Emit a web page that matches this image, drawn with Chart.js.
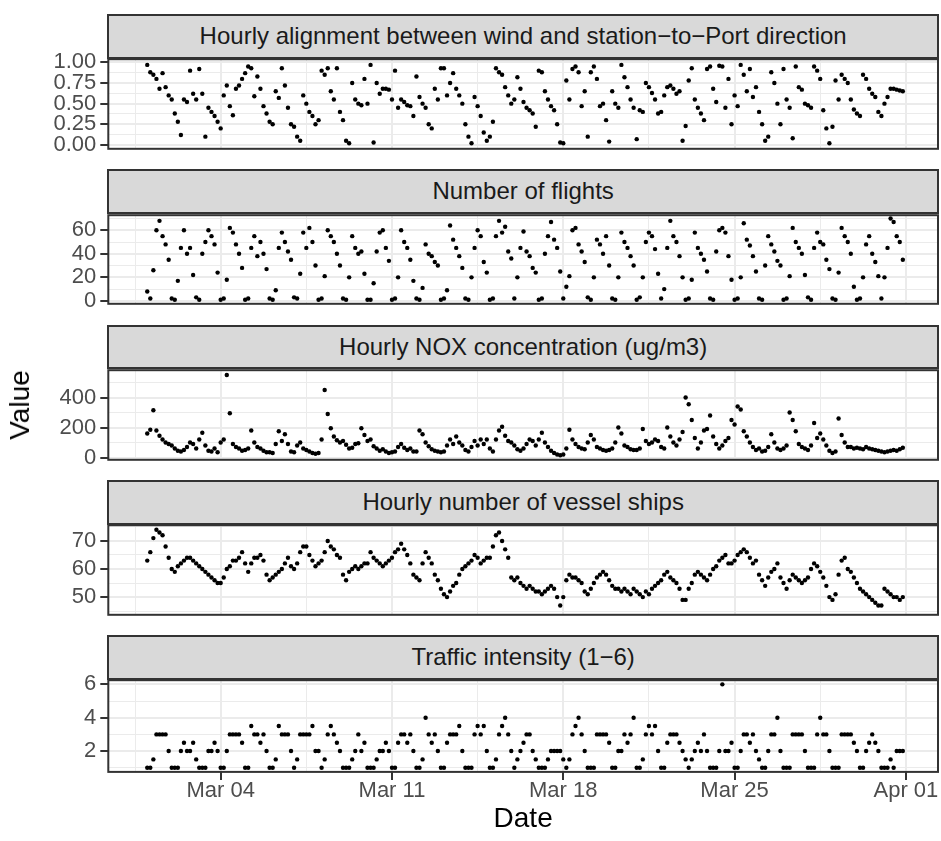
<!DOCTYPE html>
<html>
<head>
<meta charset="utf-8">
<script src="https://cdn.jsdelivr.net/npm/chart.js@4.4.0/dist/chart.umd.min.js"></script>
<style>
  body { margin: 0; background: #fff; width: 941px; height: 841px; position: relative; overflow: hidden;
         font-family: "Liberation Sans", Arial, sans-serif; }
  canvas { position: absolute; left: 0; }
  .strip { position: absolute; box-sizing: border-box; background: #d9d9d9; border: 2px solid #333;
           color: #1a1a1a; font-size: 24px; text-align: center; white-space: nowrap; }
  .title { position: absolute; color: #000; font-size: 28px; white-space: nowrap; }
</style>
</head>
<body>
<script>
// hourly samples, every 3 hours from Mar 01 00:00 (hour 0)
const stepHours = 3;

const dateTicks = [72, 240, 408, 576, 744];
const dateLabels = ['Mar 04', 'Mar 11', 'Mar 18', 'Mar 25', 'Apr 01'];
const dateMinor = [-12, 156, 324, 492, 660];

const panelTitles = [
  'Hourly alignment between wind and station\u2212to\u2212Port direction',
  'Number of flights',
  'Hourly NOX concentration (ug/m3)',
  'Hourly number of vessel ships',
  'Traffic intensity (1\u22126)'
];

// one row per day, 8 values (00,03,...,21h)
const alignment = [
  0.97,0.88,0.85,0.80,0.68,0.87,0.70,0.60,
  0.55,0.38,0.28,0.12,0.55,0.52,0.90,0.62,
  0.55,0.92,0.62,0.10,0.45,0.40,0.35,0.28,
  0.20,0.60,0.72,0.47,0.36,0.68,0.72,0.80,
  0.87,0.95,0.93,0.59,0.83,0.68,0.47,0.38,
  0.28,0.25,0.65,0.57,0.93,0.72,0.45,0.25,
  0.22,0.10,0.05,0.60,0.50,0.40,0.35,0.25,
  0.30,0.90,0.85,0.93,0.65,0.55,0.93,0.40,
  0.30,0.05,0.02,0.75,0.55,0.50,0.48,0.80,
  0.50,0.97,0.03,0.75,0.62,0.68,0.68,0.67,
  0.55,0.90,0.45,0.55,0.52,0.48,0.47,0.35,
  0.83,0.58,0.50,0.45,0.25,0.20,0.68,0.55,
  0.93,0.93,0.60,0.75,0.87,0.68,0.60,0.50,
  0.25,0.10,0.02,0.58,0.47,0.35,0.15,0.05,
  0.10,0.28,0.93,0.88,0.85,0.70,0.60,0.50,
  0.55,0.82,0.68,0.52,0.45,0.42,0.38,0.22,
  0.90,0.88,0.65,0.55,0.47,0.42,0.25,0.03,
  0.02,0.78,0.55,0.92,0.95,0.88,0.47,0.65,
  0.10,0.88,0.95,0.80,0.47,0.50,0.30,0.04,
  0.65,0.50,0.45,0.97,0.82,0.70,0.55,0.45,
  0.07,0.42,0.40,0.75,0.70,0.63,0.55,0.38,
  0.40,0.60,0.70,0.72,0.68,0.62,0.65,0.05,
  0.23,0.78,0.93,0.55,0.45,0.38,0.30,0.92,
  0.95,0.68,0.52,0.96,0.95,0.45,0.80,0.25,
  0.60,0.47,0.97,0.85,0.65,0.92,0.58,0.70,
  0.40,0.25,0.05,0.10,0.88,0.75,0.50,0.25,
  0.92,0.55,0.45,0.08,0.95,0.70,0.67,0.50,
  0.48,0.45,0.95,0.90,0.80,0.42,0.20,0.02,
  0.22,0.78,0.55,0.85,0.80,0.75,0.55,0.43,
  0.38,0.35,0.85,0.80,0.68,0.62,0.58,0.40,
  0.35,0.50,0.58,0.68,0.68,0.67,0.66,0.65
];

const flights = [
  8,2,26,60,68,55,48,35,
  2,1,17,45,60,40,45,22,
  3,1,40,50,60,55,48,24,
  1,2,18,62,58,48,40,28,
  1,2,45,55,38,50,40,27,
  2,1,9,45,58,50,42,35,
  3,2,23,58,45,62,50,30,
  1,2,21,60,55,50,40,30,
  2,1,20,55,45,40,42,23,
  1,1,15,42,58,60,45,34,
  1,2,20,60,50,45,35,17,
  2,1,11,48,40,38,33,30,
  1,2,9,64,52,45,38,28,
  2,1,20,45,60,55,33,24,
  1,2,55,68,58,63,42,36,
  2,20,45,59,42,38,28,24,
  1,2,40,55,67,52,45,25,
  2,12,21,60,62,48,42,33,
  3,1,20,52,48,40,55,30,
  2,1,20,58,50,45,38,30,
  1,3,20,50,58,55,44,23,
  2,10,45,68,55,50,38,20,
  1,2,18,58,45,40,35,25,
  2,1,42,60,62,58,38,18,
  1,2,20,66,52,47,38,25,
  2,1,30,55,48,42,34,30,
  1,2,21,62,50,45,40,22,
  3,1,45,58,50,48,35,27,
  2,1,24,62,55,50,40,12,
  1,2,20,48,55,40,33,21,
  2,20,45,70,67,55,50,35
];

const nox = [
  160,185,315,180,145,120,100,90,
  80,60,45,40,50,70,100,90,
  60,120,165,80,45,40,60,35,
  100,120,550,295,90,70,60,45,
  50,60,180,100,70,60,45,35,
  35,30,90,175,110,155,90,40,
  35,80,100,60,50,40,30,25,
  30,120,450,290,195,140,115,100,
  110,85,60,65,90,95,195,150,
  110,120,75,60,45,55,40,30,
  35,40,70,90,65,50,60,40,
  40,180,155,100,75,55,45,40,
  35,40,80,120,90,140,100,80,
  50,40,70,110,80,120,90,120,
  60,40,120,180,205,145,110,100,
  80,55,45,60,90,120,110,80,
  120,165,100,70,45,30,20,15,
  20,60,185,120,90,70,60,55,
  100,150,120,70,60,50,45,50,
  60,100,200,160,80,70,55,50,
  50,60,190,110,90,100,120,110,
  70,60,200,140,100,80,120,170,
  400,355,250,130,60,100,180,190,
  280,140,90,60,80,110,130,250,
  220,340,320,175,140,100,70,50,
  60,40,45,70,155,100,60,50,
  60,80,300,250,175,90,70,60,
  50,80,230,130,160,120,80,45,
  30,40,260,150,100,70,70,60,
  65,60,55,70,60,55,50,45,
  40,35,40,45,50,45,55,65
];

const vessels = [
  63,66,71,74,73,72,68,64,
  60,59,61,62,63,64,64,63,
  62,61,60,59,58,57,56,55,
  55,57,60,61,63,63,64,66,
  62,59,62,64,64,65,63,58,
  56,57,58,59,60,62,64,61,
  60,62,66,68,68,65,63,61,
  62,63,66,70,68,67,65,64,
  58,56,59,60,61,60,61,62,
  62,66,64,63,62,61,62,63,
  64,66,67,69,67,65,62,58,
  57,56,62,66,64,62,58,56,
  53,51,50,52,54,55,58,60,
  61,62,63,65,64,62,63,64,
  64,68,72,73,70,67,64,57,
  56,57,55,54,53,54,53,52,
  52,51,52,53,54,53,50,47,
  50,56,58,57,57,56,55,52,
  51,53,55,57,58,59,58,56,
  54,53,53,52,53,52,51,53,
  52,51,50,52,51,53,54,55,
  56,58,59,57,56,55,53,49,
  49,53,55,58,59,58,57,56,
  58,60,61,63,64,65,62,62,
  63,65,66,67,66,64,62,63,
  58,56,54,57,59,60,62,57,
  55,53,56,58,57,56,55,56,
  57,60,62,61,59,57,54,50,
  49,51,58,63,64,60,59,57,
  55,53,52,51,50,49,48,47,
  47,53,52,51,50,50,49,50
];

const traffic = [
  1,1,1.5,3,3,3,3,2,
  1,1,1,2,2.5,2,2,2.5,
  1.5,1,1,1,2,2,2.5,2,
  1,1,2,3,3,3,3,2.5,
  1,1,3.5,3,3,2.5,3,2,
  1,1,1.5,3.5,3,3,3,2,
  1,1.5,3,3,3,3,3.5,2,
  2,1,1.5,3,3.5,3,2.5,2,
  1,1,1,1.5,2,3,2,2.5,
  1,1,1,1.5,2,2,2.5,2,
  1,1,2.5,3,3,2.5,3,2,
  1,1,1.5,4,3,2.5,3,2,
  1,1,2.5,3,3,3,3.5,2,
  1,1,1,3,3.5,3,3.5,2,
  1,1,1.5,3,3.5,4,3,2,
  1,1.5,2,2.5,3,3,2,1.5,
  1,1,1,1.5,2,2,2,2,
  1.5,1,1.5,3,3.5,4,3,2,
  1,1,1,3,3,3,3,2.5,
  1,1,2,2,3,2.5,3,4,
  1,1,1.5,3,3.5,3,3.5,2,
  1,1,2.5,3,3,3,2.5,2,
  1.5,1,1.5,2,2.5,2,3,2,
  1,1,1,2,6,2,2,2.5,
  1,1,2,3,3,2.5,3,2,
  1.5,1,1,2,3,3,4,2,
  1,1,1,3,3,3,3,2,
  1,1,1,3,4,3,3,2,
  1,1,1,3,3,3,3,2.5,
  2,1,1,2,2.5,3,2.5,2,
  1,1,1,1.5,1,2,2,2
];

const alignTicks = [0, 0.25, 0.5, 0.75, 1];
const alignLabels = ['0.00', '0.25', '0.50', '0.75', '1.00'];
const alignMinor = [0.125, 0.375, 0.625, 0.875];
const flightTicks = [0, 20, 40, 60];
const flightMinor = [10, 30, 50, 70];
const noxTicks = [0, 200, 400];
const noxMinor = [100, 300, 500];
const vesselTicks = [50, 60, 70];
const vesselMinor = [45, 55, 65, 75];
const trafficTicks = [2, 4, 6];
const trafficMinor = [1, 3, 5];

const panels = [
  { values: alignment, ticks: alignTicks, labels: alignLabels, minor: alignMinor, min: -0.047, max: 1.039 },
  { values: flights, ticks: flightTicks, labels: flightTicks.map(String), minor: flightMinor, min: -2.5, max: 72.8 },
  { values: nox, ticks: noxTicks, labels: noxTicks.map(String), minor: noxMinor, min: -15, max: 582 },
  { values: vessels, ticks: vesselTicks, labels: vesselTicks.map(String), minor: vesselMinor, min: 43.7, max: 75.6 },
  { values: traffic, ticks: trafficTicks, labels: trafficTicks.map(String), minor: trafficMinor, min: 0.75, max: 6.25 }
];

// layout
const plotLeft = 108.3, plotRight = 938;
const firstTop = 57.7, panelStep = 155.3, plotH = 93, stripH = 43.7;
const tickFont = { family: 'Liberation Sans', size: 22 };
const tickGrey = '#4d4d4d', frameGrey = '#333333', gridGrey = '#ebebeb';

const framePlugin = {
  id: 'frame',
  afterDraw(chart) {
    const { ctx, chartArea: a } = chart;
    ctx.save();
    ctx.strokeStyle = frameGrey;
    ctx.lineWidth = 2;
    ctx.strokeRect(a.left, a.top, a.right - a.left, a.bottom - a.top);
    ctx.restore();
  }
};

panels.forEach((p, k) => {
  const top = firstTop + k * panelStep;
  const last = k === panels.length - 1;

  const strip = document.createElement('div');
  strip.className = 'strip';
  strip.textContent = panelTitles[k];
  strip.style.left = plotLeft - 1 + 'px';
  strip.style.width = (plotRight - plotLeft + 2) + 'px';
  strip.style.top = (top - stripH) + 'px';
  strip.style.height = (stripH + 1) + 'px';
  strip.style.lineHeight = (stripH - 3) + 'px';
  document.body.appendChild(strip);

  const cTop = Math.floor(top - 15);
  const padT = top - cTop;
  const xH = last ? 50 : 0;
  const cv = document.createElement('canvas');
  cv.width = 941;
  cv.height = Math.ceil(padT + plotH + xH + 15);
  cv.style.top = cTop + 'px';
  document.body.appendChild(cv);
  const padB = cv.height - padT - plotH - xH;

  const pts = p.values.map((v, i) => ({ x: i * stepHours, y: v }));
  const yAll = p.ticks.concat(p.minor);
  const xAll = dateTicks.concat(dateMinor);

  new Chart(cv, {
    type: 'scatter',
    data: { datasets: [{ data: pts, pointRadius: 2.2, pointHoverRadius: 2.2,
                         backgroundColor: '#000', borderWidth: 0 }] },
    plugins: [framePlugin],
    options: {
      responsive: false,
      animation: false,
      devicePixelRatio: 1,
      layout: { padding: { top: padT, bottom: padB, left: 0, right: 941 - plotRight } },
      plugins: { legend: { display: false }, tooltip: { enabled: false } },
      events: [],
      scales: {
        x: {
          type: 'linear', min: -38.2, max: 775.5,
          border: { display: false },
          afterBuildTicks: ax => { ax.ticks = xAll.map(v => ({ value: v })); },
          afterFit: ax => { ax.height = xH; },
          grid: {
            color: gridGrey,
            lineWidth: c => dateTicks.includes(c.tick.value) ? 2 : 1,
            drawTicks: last,
            tickLength: 8,
            tickWidth: 2,
            tickColor: c => dateTicks.includes(c.tick.value) ? frameGrey : 'rgba(0,0,0,0)'
          },
          ticks: {
            display: last, autoSkip: false, maxRotation: 0, minRotation: 0, padding: -2,
            font: tickFont, color: tickGrey,
            callback: v => { const i = dateTicks.indexOf(v); return i >= 0 ? dateLabels[i] : ''; }
          }
        },
        y: {
          type: 'linear', min: p.min, max: p.max,
          border: { display: false },
          afterBuildTicks: ax => { ax.ticks = yAll.map(v => ({ value: v })); },
          afterFit: ax => { ax.width = plotLeft; },
          grid: {
            color: gridGrey,
            lineWidth: c => p.ticks.includes(c.tick.value) ? 2 : 1,
            tickLength: 8,
            tickWidth: 2,
            tickColor: c => p.ticks.includes(c.tick.value) ? frameGrey : 'rgba(0,0,0,0)'
          },
          ticks: {
            autoSkip: false, padding: 4, font: tickFont, color: tickGrey,
            callback: v => { const i = p.ticks.indexOf(v); return i >= 0 ? p.labels[i] : ''; }
          }
        }
      }
    }
  });
});

const yTitle = document.createElement('div');
yTitle.className = 'title';
yTitle.textContent = 'Value';
yTitle.style.left = '20px';
yTitle.style.top = '405px';
yTitle.style.transform = 'translate(-50%, -50%) rotate(-90deg)';
document.body.appendChild(yTitle);

const xTitle = document.createElement('div');
xTitle.className = 'title';
xTitle.textContent = 'Date';
xTitle.style.left = ((plotLeft + plotRight) / 2) + 'px';
xTitle.style.top = '818px';
xTitle.style.transform = 'translate(-50%, -50%)';
document.body.appendChild(xTitle);
</script>
</body>
</html>
